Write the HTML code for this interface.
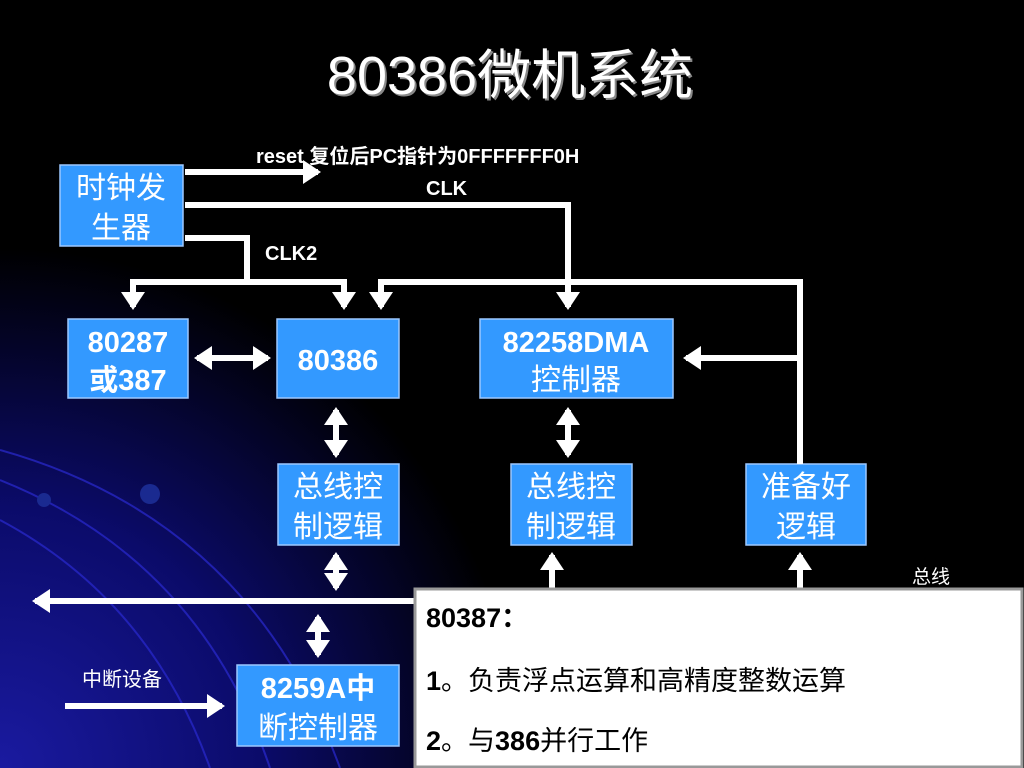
<!DOCTYPE html>
<html><head><meta charset="utf-8"><style>
html,body{margin:0;padding:0;width:1024px;height:768px;overflow:hidden;background:#000;}
svg{display:block;}
text{font-family:"Liberation Sans","Noto Sans CJK SC",sans-serif;}
</style></head><body>
<svg width="1024" height="768" viewBox="0 0 1024 768" xmlns="http://www.w3.org/2000/svg">
<defs>
<radialGradient id="bg" cx="0" cy="768" r="520" gradientUnits="userSpaceOnUse">
<stop offset="0" stop-color="#1a1aa0"/><stop offset="0.5" stop-color="#0b0b6a"/><stop offset="1" stop-color="#000"/>
</radialGradient>
<marker id="ah" markerWidth="4" markerHeight="4" refX="2.5" refY="2" orient="auto-start-reverse" markerUnits="strokeWidth"><path d="M0,0 L3,2 L0,4 Z" fill="#fff"/></marker>
</defs>
<rect width="1024" height="768" fill="#000"/>
<rect width="1024" height="768" fill="url(#bg)"/>
<g fill="none" stroke="#2a2ad0" stroke-width="2" opacity="0.7">
<path d="M0,450 Q250,520 340,768"/><path d="M0,480 Q200,560 270,768"/><path d="M0,520 Q150,600 210,768"/>
</g>
<circle cx="150" cy="494" r="10" fill="#1a2a90"/><circle cx="44" cy="500" r="7" fill="#1a2a90"/>
<text x="512" y="96" font-size="54" fill="#888" text-anchor="middle">80386微机系统</text>
<text x="510" y="94" font-size="54" fill="#fff" text-anchor="middle">80386微机系统</text>

<g fill="#3399ff" stroke="#9cc8ff" stroke-width="1.5">
<rect x="60" y="165" width="123" height="81"/>
<rect x="68" y="319" width="120" height="79"/>
<rect x="277" y="319" width="122" height="79"/>
<rect x="480" y="319" width="193" height="79"/>
<rect x="278" y="464" width="121" height="81"/>
<rect x="511" y="464" width="121" height="81"/>
<rect x="746" y="464" width="120" height="81"/>
<rect x="237" y="665" width="162" height="81"/>
</g>
<g fill="#fff" font-size="30" text-anchor="middle">
<text x="121" y="198">时钟发</text><text x="121" y="238">生器</text>
<text x="128" y="352" font-weight="bold" font-size="29">80287</text><text x="128" y="390" font-weight="bold" font-size="29">或387</text>
<text x="338" y="370" font-weight="bold" font-size="29">80386</text>
<text x="576" y="352" font-weight="bold" font-size="29">82258DMA</text><text x="576" y="390">控制器</text>
<text x="338" y="497">总线控</text><text x="338" y="537">制逻辑</text>
<text x="571" y="497">总线控</text><text x="571" y="537">制逻辑</text>
<text x="806" y="497">准备好</text><text x="806" y="537">逻辑</text>
<text x="318" y="698" font-weight="bold" font-size="29">8259A中</text><text x="318" y="738">断控制器</text>
</g>
<g fill="#fff" font-weight="bold" font-size="20">
<text x="256" y="163">reset  复位后PC指针为0FFFFFFF0H</text>
<text x="426" y="195">CLK</text>
<text x="265" y="260">CLK2</text>
</g>
<text x="912" y="583" fill="#fff" font-size="19">总线</text>
<text x="82" y="686" fill="#fff" font-size="20">中断设备</text>

<g stroke="#fff" stroke-width="6" fill="none">
<line x1="185" y1="172" x2="318" y2="172" marker-end="url(#ah)"/>
<polyline points="185,205 568,205 568,307" marker-end="url(#ah)"/>
<polyline points="185,238 247,238 247,282"/>
<polyline points="133,307 133,282 344,282 344,307" marker-start="url(#ah)" marker-end="url(#ah)"/>
<polyline points="381,307 381,282 800,282 800,464" marker-start="url(#ah)"/>
<line x1="800" y1="358" x2="686" y2="358" marker-end="url(#ah)"/>
<line x1="197" y1="358" x2="268" y2="358" marker-start="url(#ah)" marker-end="url(#ah)"/>
<line x1="336" y1="410" x2="336" y2="455" marker-start="url(#ah)" marker-end="url(#ah)"/>
<line x1="568" y1="410" x2="568" y2="455" marker-start="url(#ah)" marker-end="url(#ah)"/>
<line x1="336" y1="555" x2="336" y2="588" marker-start="url(#ah)" marker-end="url(#ah)"/>
<line x1="552" y1="555" x2="552" y2="588" marker-start="url(#ah)"/>
<line x1="800" y1="555" x2="800" y2="588" marker-start="url(#ah)"/>
<line x1="414" y1="601" x2="35" y2="601" marker-end="url(#ah)"/>
<line x1="318" y1="617" x2="318" y2="655" marker-start="url(#ah)" marker-end="url(#ah)"/>
<line x1="65" y1="706" x2="222" y2="706" marker-end="url(#ah)"/>
</g>

<rect x="415" y="589" width="607" height="178" fill="#fff" stroke="#999" stroke-width="3"/>
<g fill="#000" font-size="27">
<text x="426" y="627" font-weight="bold">80387：</text>
<text x="426" y="690"><tspan font-weight="bold">1</tspan>。负责浮点运算和高精度整数运算</text>
<text x="426" y="750"><tspan font-weight="bold">2</tspan>。与<tspan font-weight="bold">386</tspan>并行工作</text>
</g>
</svg>
</body></html>
